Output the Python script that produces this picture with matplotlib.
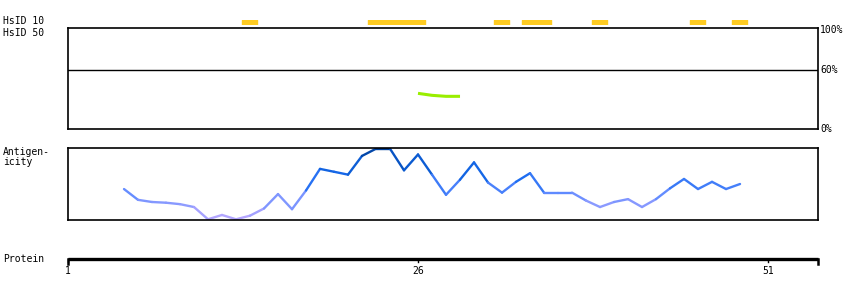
import numpy as np
import matplotlib
matplotlib.use('Agg')
import matplotlib.pyplot as plt
from matplotlib.collections import LineCollection
from matplotlib.colors import LinearSegmentedColormap

# HsID 10 hits (start residue, end residue)
hsid10_segs = [(14, 14), (23, 26), (32, 32), (34, 35), (39, 39), (46, 46), (49, 49)]

# HsID 50 identity trace (residue, percent)
hsid50_res = [26, 27, 28, 29]
hsid50_pct = [36, 34, 33, 33]

# antigenicity profile, residues 5..49 (0 = bottom of panel, 1 = top)
ag_res = list(range(5, 50))
ag_val = [0.43, 0.28, 0.25, 0.24, 0.22, 0.18, 0.01, 0.07, 0.01, 0.06,
          0.16, 0.36, 0.15, 0.41, 0.71, 0.67, 0.63, 0.89, 0.99, 0.99,
          0.69, 0.91, 0.63, 0.35, 0.56, 0.80, 0.52, 0.38, 0.53, 0.65,
          0.38, 0.38, 0.38, 0.27, 0.18, 0.25, 0.29, 0.18, 0.29, 0.44,
          0.57, 0.43, 0.53, 0.43, 0.50]

prot_ticks = [1, 26, 51]
prot_len = 54.57  # axis end in residue units

W, H = 850, 300
fig = plt.figure(figsize=(W / 100, H / 100), dpi=100)
plt.rcParams['font.family'] = 'DejaVu Sans Mono'
fs = 7

def box(x0, y0, x1, y1):
    # pixel box (top-left origin) -> figure fraction
    return [x0 / W, (H - y1) / H, (x1 - x0) / W, (y1 - y0) / H]

xl = (1, prot_len)

# HsID 10 bars
axb = fig.add_axes(box(68, 19.5, 818, 24.5))
axb.set_xlim(*xl)
axb.set_ylim(0, 1)
axb.broken_barh([(s - 0.57, e - s + 1.07) for s, e in hsid10_segs], (0, 1), color='#ffcc22')
axb.axis('off')

# HsID 50 panel
ax1 = fig.add_axes(box(68, 28, 818, 129))
ax1.set_xlim(*xl)
ax1.set_ylim(0, 102)
ax1.axhline(60, color='black', lw=1)
ax1.plot(hsid50_res, hsid50_pct, color='#99ee00', lw=2.2, solid_capstyle='butt')
ax1.set_xticks([])
ax1.set_yticks([])
for sp in ax1.spines.values():
    sp.set_linewidth(1.2)
for v, lab in [(100, '100%'), (60, '60%'), (0, '0%')]:
    ax1.text(1.003, v, lab, transform=ax1.get_yaxis_transform(), fontsize=fs, va='center', ha='left')

# antigenicity panel
ax2 = fig.add_axes(box(68, 148, 818, 220))
ax2.set_xlim(*xl)
ax2.set_ylim(0, 1)
ax2.set_xticks([])
ax2.set_yticks([])
for sp in ax2.spines.values():
    sp.set_linewidth(1.2)
cmap = LinearSegmentedColormap.from_list('ag', ['#bba8ff', '#8f9cff', '#5a88ff', '#1a6cf0', '#0a5ad0', '#003f99'])
pts = np.column_stack([ag_res, ag_val])
segs = np.stack([pts[:-1], pts[1:]], axis=1)
mid = (np.array(ag_val[:-1]) + np.array(ag_val[1:])) / 2
lc = LineCollection(segs, colors=cmap(mid), linewidths=1.7, capstyle='round')
ax2.add_collection(lc)

# protein axis
ax3 = fig.add_axes(box(68, 259, 818, 264))
ax3.set_xlim(*xl)
ax3.set_ylim(0, 1)
ax3.axis('off')
ax3.plot(xl, [1, 1], color='black', lw=2.4, clip_on=False, solid_capstyle='butt')
for t in prot_ticks:
    ax3.plot([t, t], [1, 0.4], color='black', lw=1, clip_on=False)
for t in xl:
    ax3.plot([t, t], [1, 0], color='black', lw=1.8, clip_on=False)
for t in prot_ticks:
    ax3.text(t, -1.3, str(t), fontsize=fs, ha='center', va='center')

# left labels
fig.text(3 / W, 1 - 21 / H, 'HsID 10', fontsize=fs, va='center')
fig.text(3 / W, 1 - 33 / H, 'HsID 50', fontsize=fs, va='center')
fig.text(3 / W, 1 - 157 / H, 'Antigen-\nicity', fontsize=fs, va='center', linespacing=0.95)
fig.text(3 / W, 1 - 259 / H, 'Protein', fontsize=fs, va='center')

fig.savefig('out.png', dpi=100)
